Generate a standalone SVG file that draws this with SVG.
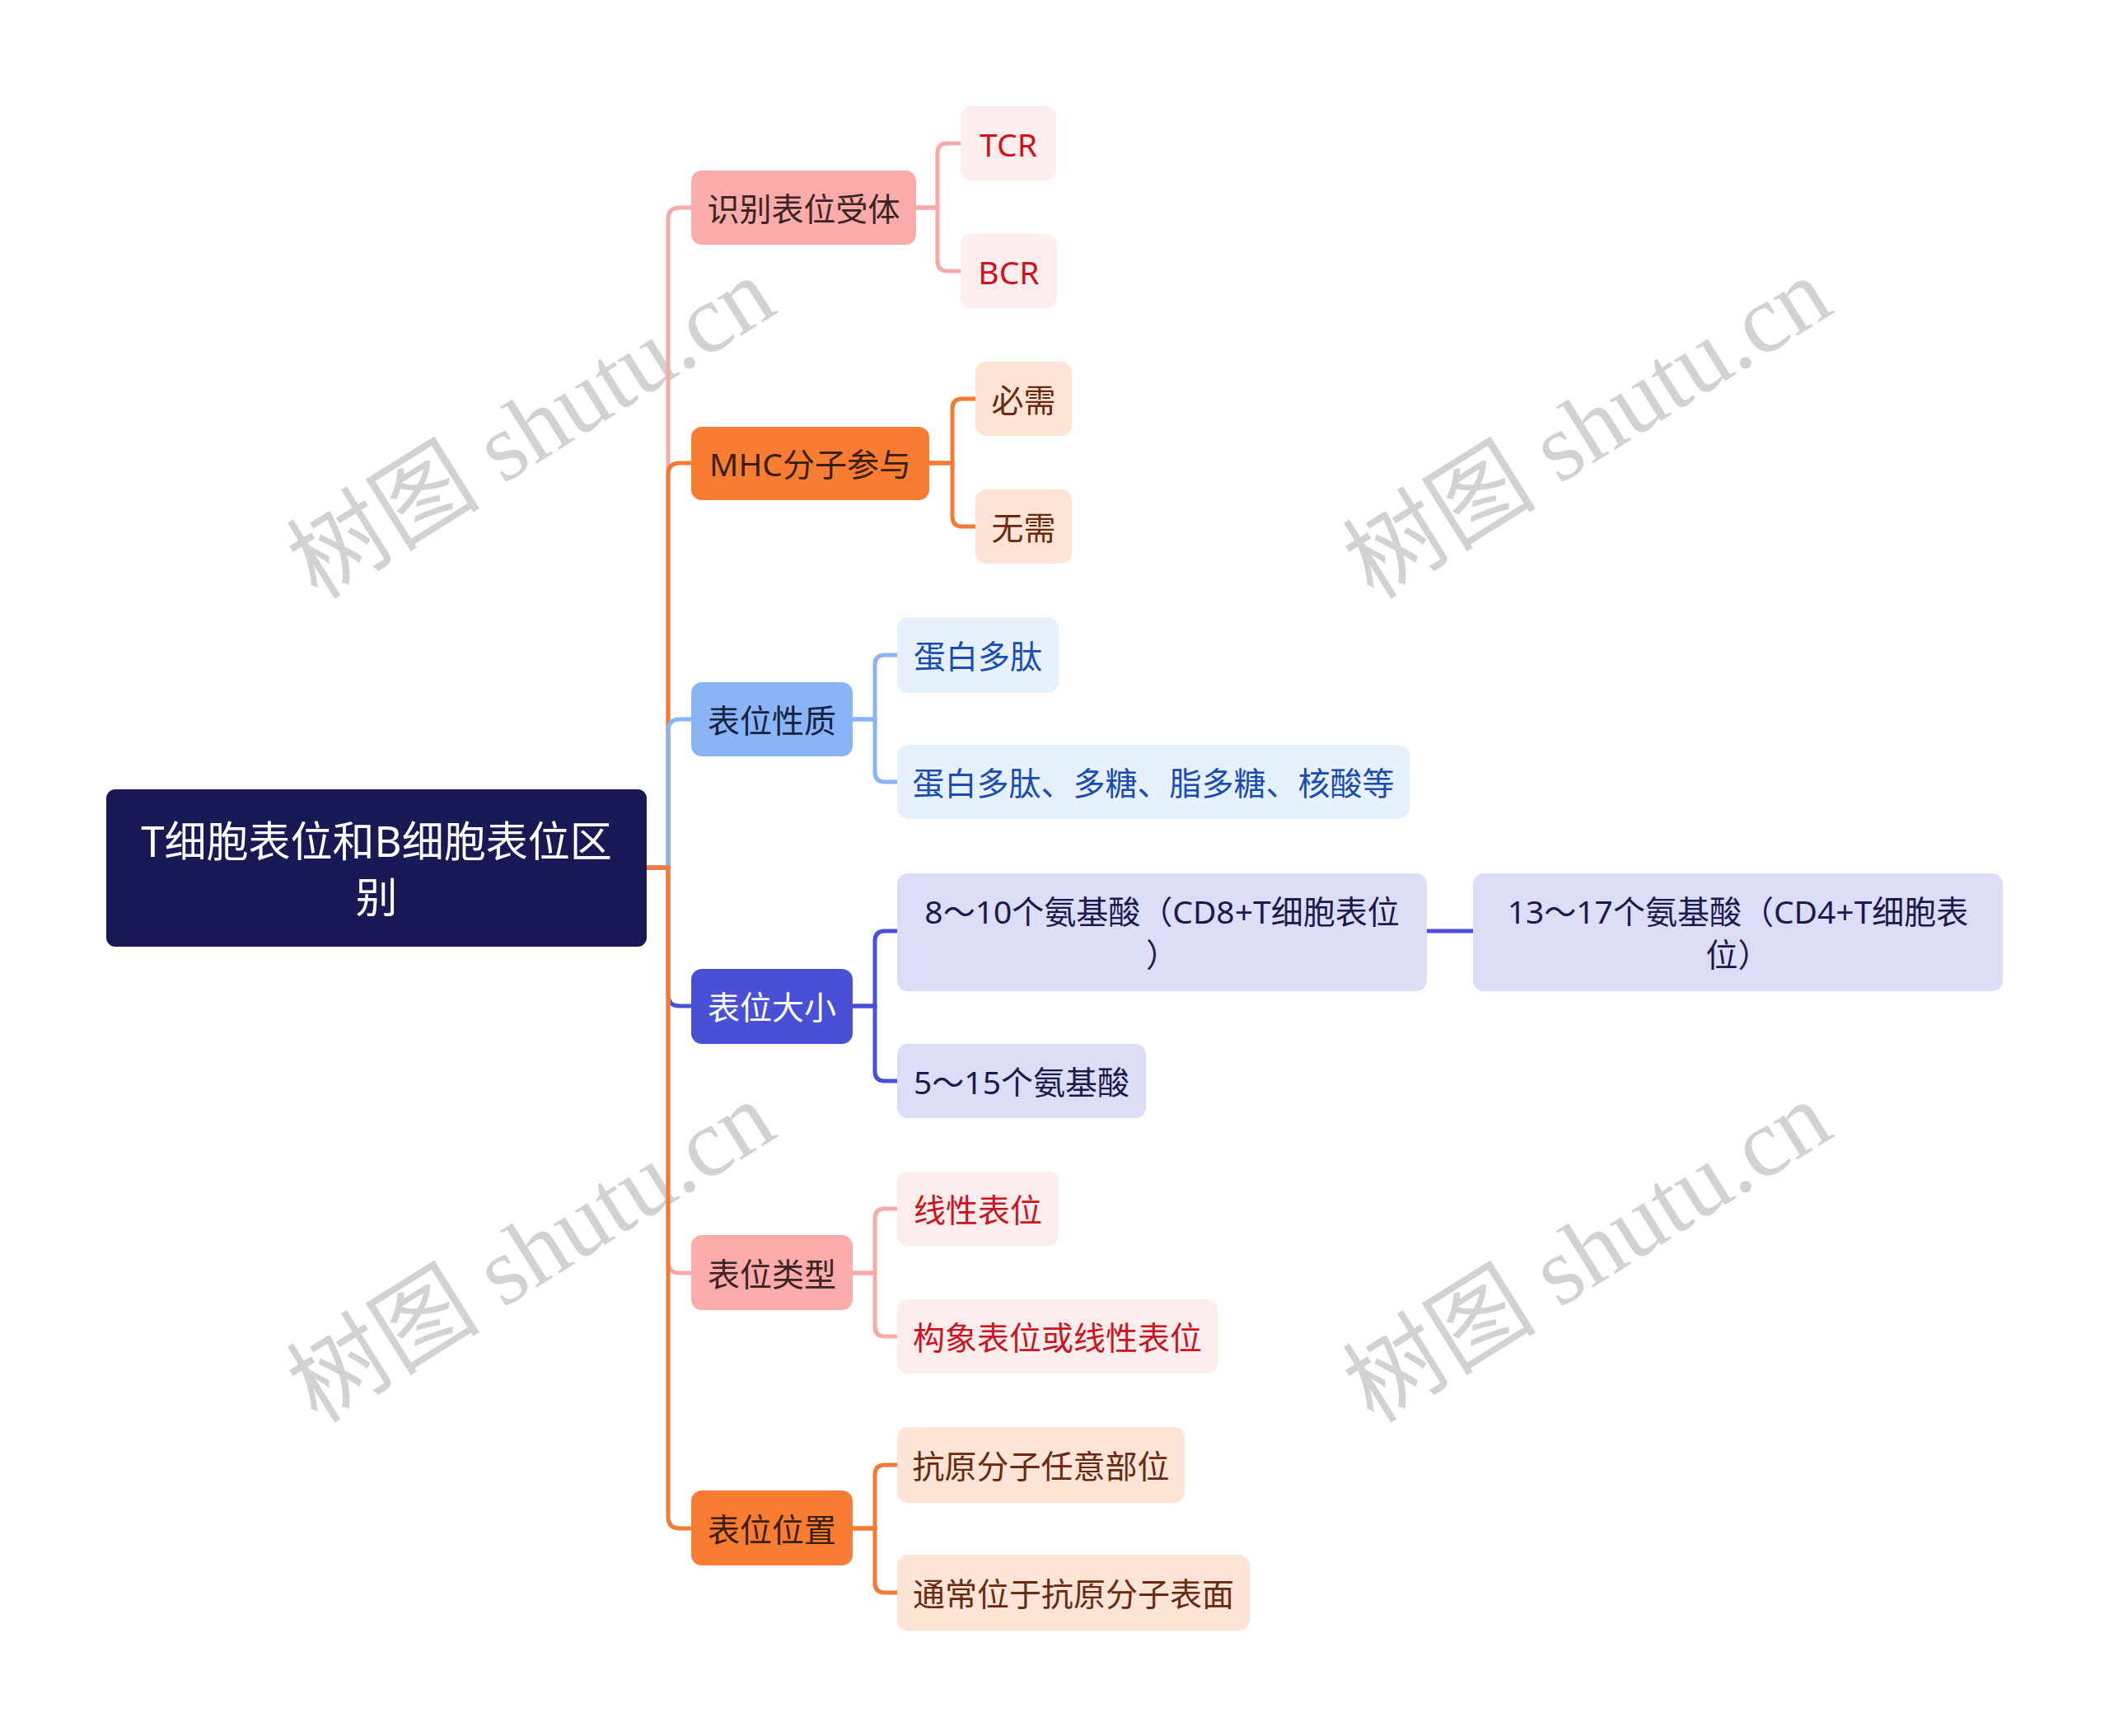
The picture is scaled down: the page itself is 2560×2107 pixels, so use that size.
<svg xmlns="http://www.w3.org/2000/svg" width="2560" height="2107" viewBox="0 0 2560 2107">
<style>
text{font-family:"Noto Sans","Noto Sans CJK SC",sans-serif;text-anchor:middle;dominant-baseline:central}
.wm{font-family:"Liberation Serif","Noto Sans CJK SC",serif;font-size:118px;fill:#d2d2d2;text-anchor:middle}
.l1{font-size:39px}
.l2{font-size:39px}
.c{fill:none;stroke-width:5;stroke-linecap:butt}
.pk{stroke:#f8aaa8}.or{stroke:#f47b35}.bl{stroke:#8ab4f8}.in{stroke:#4a50d6}
.n-pk1{fill:#fbaba9}.t-pk1{fill:#3a2424}
.n-pk2{fill:#fdedec}.t-pk2{fill:#cc1420}
.n-or1{fill:#f97c33}.t-or1{fill:#3a1f0f}
.n-or2{fill:#fde4d6}.t-or2{fill:#6b2a0e}
.n-bl1{fill:#8ab4f8}.t-bl1{fill:#17233f}
.n-bl2{fill:#e7f0fd}.t-bl2{fill:#1a4db2}
.n-in1{fill:#4a50d6}.t-in1{fill:#ffffff}
.n-in2{fill:#dcddf6}.t-in2{fill:#1b1a4f}
</style>
<rect width="2560" height="2107" fill="#ffffff"/>
<g id="watermarks">
<text class="wm" transform="translate(645 520) rotate(-32)">树图 shutu.cn</text>
<text class="wm" transform="translate(1927 520) rotate(-32)">树图 shutu.cn</text>
<text class="wm" transform="translate(645 1520) rotate(-32)">树图 shutu.cn</text>
<text class="wm" transform="translate(1927 1520) rotate(-32)">树图 shutu.cn</text>
</g>
<g id="connectors">
<path class="c pk" d="M785 1053 H811 V266 Q811 252 825 252 H839"/>
<path class="c or" d="M785 1053 H811 V576 Q811 562 825 562 H839"/>
<path class="c bl" d="M785 1053 H811 V887 Q811 873 825 873 H839"/>
<path class="c in" d="M785 1053 H811 V1207 Q811 1221 825 1221 H839"/>
<path class="c pk" d="M785 1053 H811 V1531 Q811 1545 825 1545 H839"/>
<path class="c or" d="M785 1053 H811 V1841 Q811 1855 825 1855 H839"/>
<path class="c pk" d="M1112 252 H1138 V186 Q1138 174 1150 174 H1166"/>
<path class="c pk" d="M1112 252 H1138 V317 Q1138 329 1150 329 H1166"/>
<path class="c or" d="M1128 562 H1156 V496 Q1156 484 1168 484 H1184"/>
<path class="c or" d="M1128 562 H1156 V627 Q1156 639 1168 639 H1184"/>
<path class="c bl" d="M1035 873 H1062 V807 Q1062 795 1074 795 H1089"/>
<path class="c bl" d="M1035 873 H1062 V937 Q1062 949 1074 949 H1089"/>
<path class="c in" d="M1035 1221 H1062 V1142 Q1062 1130 1074 1130 H1089"/>
<path class="c in" d="M1035 1221 H1062 V1300 Q1062 1312 1074 1312 H1089"/>
<path class="c in" d="M1732 1130 H1788"/>
<path class="c pk" d="M1035 1545 H1062 V1479 Q1062 1467 1074 1467 H1089"/>
<path class="c pk" d="M1035 1545 H1062 V1610 Q1062 1622 1074 1622 H1089"/>
<path class="c or" d="M1035 1855 H1062 V1790 Q1062 1778 1074 1778 H1089"/>
<path class="c or" d="M1035 1855 H1062 V1921 Q1062 1933 1074 1933 H1089"/>
</g>
<g id="root">
<rect x="129" y="958" width="656" height="191" rx="11" fill="#1a1956"/>
<text x="457" y="1020" font-size="51" fill="#ffffff">T细胞表位和B细胞表位区</text>
<text x="457" y="1088" font-size="51" fill="#ffffff">别</text>
</g>
<g id="n-shibie">
<rect class="n-pk1" x="839" y="207" width="273" height="90" rx="13"/>
<text class="l1 t-pk1" x="975.5" y="252">识别表位受体</text>
</g>
<g id="n-tcr">
<rect class="n-pk2" x="1166" y="129" width="116" height="90" rx="13"/>
<text class="l2 t-pk2" x="1224" y="174">TCR</text>
</g>
<g id="n-bcr">
<rect class="n-pk2" x="1166" y="284" width="117" height="90" rx="13"/>
<text class="l2 t-pk2" x="1224.5" y="329">BCR</text>
</g>
<g id="n-mhc">
<rect class="n-or1" x="839" y="518" width="289" height="89" rx="13"/>
<text class="l1 t-or1" x="983.5" y="562">MHC分子参与</text>
</g>
<g id="n-bixu">
<rect class="n-or2" x="1184" y="439" width="117" height="90" rx="13"/>
<text class="l2 t-or2" x="1242.5" y="484">必需</text>
</g>
<g id="n-wuxu">
<rect class="n-or2" x="1184" y="594" width="117" height="90" rx="13"/>
<text class="l2 t-or2" x="1242.5" y="639">无需</text>
</g>
<g id="n-xingzhi">
<rect class="n-bl1" x="839" y="828" width="196" height="90" rx="13"/>
<text class="l1 t-bl1" x="937" y="873">表位性质</text>
</g>
<g id="n-danbai">
<rect class="n-bl2" x="1089" y="749" width="196" height="92" rx="13"/>
<text class="l2 t-bl2" x="1187" y="795">蛋白多肽</text>
</g>
<g id="n-danbai2">
<rect class="n-bl2" x="1089" y="904" width="622" height="90" rx="13"/>
<text class="l2 t-bl2" x="1400" y="949">蛋白多肽、多糖、脂多糖、核酸等</text>
</g>
<g id="n-daxiao">
<rect class="n-in1" x="839" y="1176" width="196" height="91" rx="13"/>
<text class="l1 t-in1" x="937" y="1221">表位大小</text>
</g>
<g id="n-8-10">
<rect class="n-in2" x="1089" y="1060" width="643" height="143" rx="13"/>
<text class="l2 t-in2" x="1410.5" y="1105">8～10个氨基酸（CD8+T细胞表位</text>
<text class="l2 t-in2" x="1410.5" y="1157">）</text>
</g>
<g id="n-13-17">
<rect class="n-in2" x="1788" y="1060" width="643" height="143" rx="13"/>
<text class="l2 t-in2" x="2109.5" y="1105">13～17个氨基酸（CD4+T细胞表</text>
<text class="l2 t-in2" x="2109.5" y="1157">位）</text>
</g>
<g id="n-5-15">
<rect class="n-in2" x="1089" y="1267" width="302" height="90" rx="13"/>
<text class="l2 t-in2" x="1240" y="1312">5～15个氨基酸</text>
</g>
<g id="n-leixing">
<rect class="n-pk1" x="839" y="1499" width="196" height="91" rx="13"/>
<text class="l1 t-pk1" x="937" y="1545">表位类型</text>
</g>
<g id="n-xianxing">
<rect class="n-pk2" x="1089" y="1422" width="196" height="90" rx="13"/>
<text class="l2 t-pk2" x="1187" y="1467">线性表位</text>
</g>
<g id="n-gouxiang">
<rect class="n-pk2" x="1089" y="1577" width="389" height="90" rx="13"/>
<text class="l2 t-pk2" x="1283.5" y="1622">构象表位或线性表位</text>
</g>
<g id="n-weizhi">
<rect class="n-or1" x="839" y="1809" width="196" height="91" rx="13"/>
<text class="l1 t-or1" x="937" y="1855">表位位置</text>
</g>
<g id="n-renyi">
<rect class="n-or2" x="1089" y="1732" width="349" height="92" rx="13"/>
<text class="l2 t-or2" x="1263.5" y="1778">抗原分子任意部位</text>
</g>
<g id="n-biaomian">
<rect class="n-or2" x="1089" y="1887" width="428" height="92" rx="13"/>
<text class="l2 t-or2" x="1303" y="1933">通常位于抗原分子表面</text>
</g>
</svg>
